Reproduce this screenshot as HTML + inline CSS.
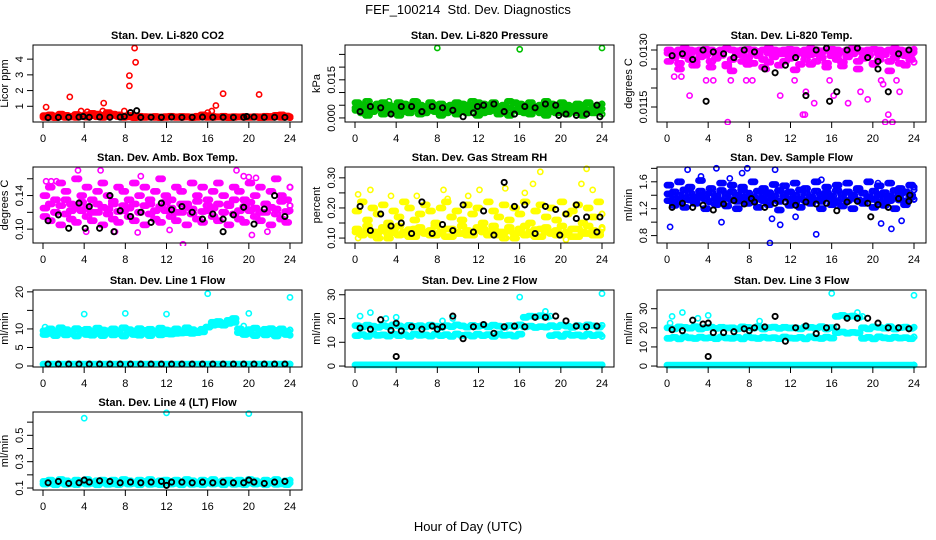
<!DOCTYPE html>
<html><head><meta charset="utf-8">
<style>
html,body{margin:0;padding:0;background:#fff;}
svg{display:block;font-family:"Liberation Sans",Arial,sans-serif;}
</style></head>
<body>
<svg id="chart" width="936" height="540" viewBox="0 0 936 540" xmlns="http://www.w3.org/2000/svg">
<text x="468" y="14" font-size="13" text-anchor="middle">FEF_100214&#160; Std. Dev. Diagnostics</text>
<text x="468" y="531" font-size="13" text-anchor="middle">Hour of Day (UTC)</text>
</svg>
<script>
const xTicks = [0,4,8,12,16,20,24];

const co2BandA = [0.3,0.32,0.28,0.35,0.3,0.33,0.29,0.36,0.31,0.4,0.34,0.3,0.38,0.42,0.35,0.3,0.33,0.28,0.3,0.29,0.31,0.3,0.28,0.3,0.32,0.29,0.3,0.31,0.28,0.3,0.33,0.3,0.29,0.31,0.3,0.28,0.3,0.32,0.29,0.3,0.31,0.28,0.3,0.29,0.33,0.3,0.31,0.28];
const co2BandB = [0.4,0.45,0.38,0.5,0.42,0.36,0.48,0.4,0.45,0.55,0.5,0.42,0.6,0.5,0.45,0.38,0.42,0.35,0.36,0.34,0.33,0.35,0.32,0.34,0.36,0.33,0.35,0.34,0.32,0.36,0.45,0.4,0.35,0.33,0.36,0.32,0.34,0.33,0.35,0.32,0.34,0.33,0.36,0.35,0.42,0.45,0.38,0.33];
const co2Black = [0.28,0.29,0.3,0.31,0.3,0.32,0.3,0.31,0.6,0.29,0.3,0.3,0.31,0.29,0.3,0.31,0.3,0.3,0.29,0.3,0.31,0.3,0.3,0.29];
const co2OutT = [0.3,2.6,3.7,4.3,5.9,5.8,8.4,8.4,8.9,9.0,7.9,16,16.4,16.8,17.5,21,23.3];
const co2OutV = [0.95,1.6,0.7,0.65,1.2,0.7,2.3,2.95,4.7,3.8,0.7,0.6,0.7,1.05,1.8,1.75,0.45];
const co2BlkT = [9.1,3.9,7.9,19.8];
const co2BlkV = [0.72,0.35,0.35,0.35];

const presBandA = [0.006,0.005,0.0065,0.004,0.0055,0.006,0.005,0.0045,0.006,0.0055,0.005,0.0065,0.005,0.0045,0.006,0.005,0.0055,0.0045,0.005,0.006,0.0055,0.005,0.0065,0.006,0.0055,0.005,0.006,0.0045,0.005,0.0065,0.006,0.0055,0.005,0.006,0.0045,0.005,0.0065,0.0055,0.005,0.006,0.005,0.0045,0.0055,0.005,0.006,0.0045,0.005,0.0055];
const presBandB = [0.003,0.002,0.001,0.0025,0.0035,0.0015,0.002,0.003,0.001,0.0025,0.002,0.0035,0.0015,0.002,0.003,0.0025,0.001,0.002,0.003,0.0015,0.0025,0.002,0.0035,0.001,0.002,0.0025,0.003,0.0015,0.002,0.001,0.003,0.0025,0.002,0.0015,0.003,0.002,0.001,0.0025,0.002,0.003,0.0015,0.0025,0.002,0.001,0.003,0.002,0.0025,0.0015];
const presBandC = [0.004,0.0035,0.003,0.0045,0.0038,0.0032,0.004,0.0042,0.0035,0.003,0.0038,0.0045,0.004,0.0033,0.0036,0.0042,0.004,0.0035,0.003,0.0045,0.0038,0.0032,0.004,0.0036,0.0042,0.0035,0.003,0.004,0.0045,0.0038,0.0033,0.004,0.0036,0.0042,0.0035,0.003,0.0038,0.0045,0.004,0.0033,0.0036,0.0042,0.004,0.0035,0.003,0.0038,0.0042,0.0036];
const presBlack = [0.0025,0.0045,0.004,0.0015,0.0045,0.0045,0.0025,0.0045,0.004,0.003,0.0005,0.002,0.005,0.0055,0.0025,0.0015,0.0045,0.004,0.0055,0.005,0.0015,0.001,0.0015,0.005];
const presOutT = [8,16,24,3.3,18.7,6.1];
const presOutV = [0.0275,0.027,0.0275,0.0065,0.0065,0.0063];
const presBlkT = [19.8,23.8,11.9];
const presBlkV = [0.001,0.0005,0.0045];

const tempBandA = [0.01300,0.01295,0.01300,0.01305,0.01300,0.01298,0.01300,0.01302,0.01300,0.01296,0.01300,0.01304,0.01300,0.01298,0.01300,0.01302,0.01300,0.01296,0.01300,0.01305,0.01300,0.01298,0.01300,0.01302,0.01300,0.01296,0.01300,0.01304,0.01300,0.01298,0.01300,0.01302,0.01300,0.01296,0.01300,0.01305,0.01300,0.01298,0.01300,0.01302,0.01300,0.01296,0.01300,0.01304,0.01300,0.01298,0.01300,0.01302];
const tempBandB = [0.01270,0.01280,0.01265,0.01285,0.01275,0.01268,0.01282,0.01290,0.01270,0.01278,0.01286,0.01262,0.01275,0.01288,0.01270,0.01280,0.01265,0.01285,0.01275,0.01268,0.01282,0.01290,0.01270,0.01278,0.01286,0.01262,0.01275,0.01288,0.01270,0.01280,0.01265,0.01285,0.01275,0.01268,0.01282,0.01290,0.01270,0.01278,0.01286,0.01262,0.01275,0.01288,0.01270,0.01280,0.01265,0.01285,0.01275,0.01268];
const tempBandC = [0.01292,0.01288,0.01250,0.01294,0.01290,0.01260,0.01292,0.01286,0.01255,0.01290,0.01294,0.01258,0.01245,0.01292,0.01288,0.01262,0.01290,0.01294,0.01255,0.01292,0.01288,0.01260,0.01290,0.01294,0.01248,0.01292,0.01288,0.01262,0.01290,0.01294,0.01255,0.01292,0.01288,0.01258,0.01290,0.01294,0.01250,0.01292,0.01288,0.01265,0.01290,0.01294,0.01245,0.01292,0.01288,0.01260,0.01290,0.01294];
const tempBlack = [0.01285,0.01290,0.01275,0.01300,0.01295,0.01290,0.01280,0.01300,0.01295,0.01250,0.01240,0.01260,0.01280,0.01180,0.01300,0.01305,0.01190,0.01300,0.01305,0.01280,0.01270,0.01190,0.01290,0.01300];
const tempOutT = [0.7,1.4,2.2,2.4,3.8,4.5,5.9,6.2,7.7,8.3,9.7,11,12.4,13.2,13.4,13.5,14.3,15.8,16.2,17.6,18.8,19.5,21.2,21.5,21.9,22.3,22.6,21,20.8];
const tempOutV = [0.0123,0.0123,0.0118,0.0126,0.0122,0.0122,0.0111,0.0122,0.0122,0.0122,0.0125,0.0118,0.0122,0.0113,0.0113,0.0119,0.0116,0.0122,0.0118,0.0116,0.0119,0.0117,0.0111,0.0113,0.0111,0.0122,0.0119,0.0121,0.0122];
const tempBlkT = [3.8,15.8,20.5];
const tempBlkV = [0.01165,0.01165,0.0125];

const boxBandA = [0.14,0.15,0.135,0.155,0.145,0.13,0.16,0.14,0.15,0.135,0.145,0.155,0.14,0.13,0.15,0.145,0.135,0.155,0.14,0.15,0.13,0.145,0.16,0.14,0.135,0.15,0.145,0.13,0.155,0.14,0.15,0.135,0.145,0.155,0.14,0.13,0.15,0.145,0.135,0.155,0.14,0.15,0.13,0.145,0.16,0.14,0.135,0.15];
const boxBandB = [0.115,0.11,0.12,0.105,0.118,0.112,0.108,0.122,0.115,0.11,0.12,0.105,0.118,0.112,0.108,0.122,0.115,0.11,0.12,0.105,0.118,0.112,0.108,0.122,0.115,0.11,0.12,0.105,0.118,0.112,0.108,0.122,0.115,0.11,0.12,0.105,0.118,0.112,0.108,0.122,0.115,0.11,0.12,0.105,0.118,0.112,0.108,0.122];
const boxBandC = [0.125,0.13,0.12,0.128,0.135,0.122,0.127,0.132,0.125,0.12,0.13,0.126,0.124,0.133,0.121,0.128,0.125,0.13,0.12,0.128,0.135,0.122,0.127,0.132,0.125,0.12,0.13,0.126,0.124,0.133,0.121,0.128,0.125,0.13,0.12,0.128,0.135,0.122,0.127,0.132,0.125,0.12,0.13,0.126,0.124,0.133,0.121,0.128];
const boxBlack = [0.11,0.117,0.101,0.131,0.127,0.101,0.14,0.122,0.115,0.12,0.108,0.131,0.123,0.127,0.12,0.112,0.118,0.112,0.117,0.126,0.106,0.124,0.14,0.115];
const boxOutT = [0.3,0.8,1.3,3.4,3.5,5.6,9.5,13.6,18.8,19.5,20,20.7,22.5,9.2,4.2,7,21.8,20.3,12.3];
const boxOutV = [0.157,0.157,0.157,0.17,0.16,0.17,0.163,0.082,0.17,0.163,0.162,0.161,0.16,0.096,0.097,0.097,0.097,0.093,0.099];
const boxBlkT = [4.1,6.9,17.5];
const boxBlkV = [0.101,0.097,0.097];

const rhBandA = [0.12,0.11,0.13,0.12,0.1,0.125,0.115,0.13,0.11,0.12,0.105,0.13,0.12,0.115,0.125,0.11,0.12,0.13,0.105,0.12,0.115,0.125,0.11,0.13,0.12,0.11,0.13,0.12,0.1,0.125,0.115,0.13,0.11,0.12,0.105,0.13,0.12,0.115,0.125,0.11,0.12,0.13,0.105,0.12,0.115,0.125,0.11,0.13];
const rhBandB = [0.13,0.115,0.14,0.11,0.12,0.135,0.1,0.118,0.14,0.112,0.128,0.105,0.135,0.12,0.11,0.14,0.118,0.105,0.13,0.115,0.14,0.11,0.12,0.135,0.13,0.115,0.14,0.11,0.12,0.135,0.1,0.118,0.14,0.112,0.128,0.105,0.135,0.12,0.11,0.14,0.118,0.105,0.13,0.115,0.14,0.11,0.12,0.135];
const rhBandC = [0.19,0.22,0.16,0.2,0.18,0.21,0.15,0.19,0.17,0.22,0.2,0.16,0.18,0.21,0.19,0.15,0.2,0.22,0.17,0.19,0.16,0.21,0.18,0.2,0.15,0.22,0.19,0.17,0.21,0.16,0.2,0.18,0.22,0.15,0.19,0.21,0.17,0.2,0.16,0.22,0.18,0.19,0.21,0.15,0.2,0.17,0.22,0.18];
const rhBlack = [0.205,0.125,0.18,0.14,0.15,0.115,0.22,0.115,0.145,0.125,0.21,0.12,0.19,0.11,0.285,0.205,0.21,0.115,0.205,0.195,0.18,0.21,0.17,0.12];
const rhOutT = [0.3,1.5,3.5,8.6,11,12.1,14.6,17.3,18,22,22.5,23.1,0.3,20.5,16.5,9,6];
const rhOutV = [0.245,0.26,0.24,0.26,0.24,0.26,0.265,0.28,0.32,0.28,0.33,0.26,0.1,0.095,0.25,0.23,0.24];
const rhBlkT = [23.8,21.5,19.9];
const rhBlkV = [0.17,0.165,0.11];

const flowBandA = [1.42,1.45,1.4,1.48,1.43,1.38,1.46,1.41,1.44,1.39,1.47,1.42,1.45,1.4,1.48,1.43,1.38,1.46,1.41,1.44,1.39,1.47,1.42,1.45,1.4,1.48,1.43,1.38,1.46,1.41,1.44,1.39,1.47,1.42,1.45,1.4,1.48,1.43,1.38,1.46,1.41,1.44,1.39,1.47,1.42,1.45,1.4,1.48];
const flowBandB = [1.32,1.35,1.3,1.36,1.33,1.31,1.37,1.34,1.3,1.35,1.32,1.36,1.33,1.31,1.37,1.34,1.3,1.35,1.32,1.36,1.33,1.31,1.37,1.34,1.3,1.35,1.32,1.36,1.33,1.31,1.37,1.34,1.3,1.35,1.32,1.36,1.33,1.31,1.37,1.34,1.3,1.35,1.32,1.36,1.33,1.31,1.37,1.34];
const flowBandC = [1.55,1.25,1.6,1.22,1.52,1.28,1.62,1.2,1.5,1.26,1.58,1.24,1.55,1.2,1.52,1.28,1.6,1.22,1.5,1.26,1.56,1.18,1.54,1.25,1.58,1.22,1.5,1.28,1.6,1.2,1.52,1.26,1.55,1.24,1.58,1.2,1.5,1.28,1.6,1.22,1.54,1.25,1.58,1.2,1.5,1.26,1.55,1.52];
const flowBlack = [1.22,1.28,1.22,1.25,1.18,1.27,1.32,1.27,1.3,1.22,1.28,1.3,1.25,1.3,1.27,1.28,1.17,1.3,1.31,1.28,1.26,1.22,1.35,1.31];
const flowOutT = [0.3,2,4.8,5.3,7.8,10.5,10.2,11,12.5,14.5,10,20.8,21.8,22.8,3.3,6.1,7.3,15,20.5];
const flowOutV = [0.93,1.78,1.8,1.0,1.8,1.78,1.05,0.96,1.08,0.82,0.69,0.98,0.9,1.02,1.68,1.65,1.73,1.63,1.58];
const flowBlkT = [23.6,19.8,8.2];
const flowBlkV = [1.4,1.08,1.35];

const l1BandA = [9.5,10,9.2,10.3,9.8,9.4,10.1,9.6,9.9,9.3,10.2,9.7,9.5,10,9.2,10.3,9.8,9.4,10.1,9.6,9.9,9.3,10.2,9.7,9.5,10,9.2,10.3,9.8,9.4,9.9,10.5,11.8,12,11.5,12.3,12.8,10,9.5,9.8,10.2,9.4,9.9,10.1,9.6,10,9.3,9.7];
const l1BandB = [8.5,8.8,8.2,9,8.4,8.7,8.1,8.9,8.5,8.3,8.8,8.2,9,8.4,8.7,8.1,8.9,8.5,8.3,8.8,8.2,9,8.4,8.7,8.6,8.8,8.9,9,8.8,9,9.2,10.5,11,11.2,11,11.5,11.8,9,8.5,8.8,8.2,9,8.4,8.7,8.1,8.9,8.5,8.3];
const l1Zero = [0.5,0.5,0.5,0.5,0.5,0.5,0.5,0.5,0.5,0.5,0.5,0.5,0.5,0.5,0.5,0.5,0.5,0.5,0.5,0.5,0.5,0.5,0.5,0.5,0.5,0.5,0.5,0.5,0.5,0.5,0.5,0.5,0.5,0.5,0.5,0.5,0.5,0.5,0.5,0.5,0.5,0.5,0.5,0.5,0.5,0.5,0.5,0.5];
const l1Black = [0.5,0.5,0.5,0.5,0.5,0.5,0.5,0.5,0.5,0.5,0.5,0.5,0.5,0.5,0.5,0.5,0.5,0.5,0.5,0.5,0.5,0.5,0.5,0.5];
const l1OutT = [4,8,12,16,20,24,19.5,0.2];
const l1OutV = [14,14.2,14,19.5,14.2,18.5,10.8,10.5];
const l1BlkT = [];
const l1BlkV = [];

const l2BandA = [17,16.5,17.2,16.8,16.3,17,16.6,17.3,16.9,16.4,17.1,16.7,17,16.5,17.2,16.8,16.3,17,16.6,17.3,16.9,16.4,17.1,16.7,17,16.5,17.2,16.8,16.3,17,16.6,17.3,20.5,21,20.8,21.2,20.6,17,16.5,17.2,16.8,16.3,17,16.6,17.3,16.9,16.4,17.1];
const l2BandB = [12.8,13.2,12.5,13.5,12.9,13.1,12.6,13.4,12.8,13.2,12.5,13.5,12.9,13.1,12.6,13.4,12.8,13.2,12.5,13.5,12.9,13.1,12.6,13.4,12.8,13.2,12.5,13.5,12.9,13.1,12.6,13.4,16.5,16.8,16.2,16.6,16.4,12.8,13.2,12.5,13.5,12.9,13.1,12.6,13.4,12.8,13.2,12.5];
const l2Zero = l1Zero.slice();
const l2Black = [16,15.5,19.5,15,14.8,16.5,15.5,16.8,16.5,21,11.5,16.5,17.5,13.8,16.5,16.8,16.5,20.5,20.5,21,19,16.8,16.5,16.8];
const l2OutT = [0.5,1.5,3,4,16,24,18.5,19,8.5,9.5];
const l2OutV = [21,22.5,20,20.5,29,30.5,23,21,19,20];
const l2BlkT = [4,4,8];
const l2BlkV = [4,18,15.5];

const l3BandA = [20,19.5,20.5,20.2,19.8,20.6,19.4,20.1,20.4,19.7,20.3,19.9,20,19.5,20.5,20.2,19.8,20.6,19.4,20.1,20.4,19.7,20.3,19.9,20,19.5,20.5,20.2,19.8,20.6,19.4,20.1,26,26.5,25.8,26.2,25.5,20,19.5,20.5,20.2,19.8,20.6,19.4,20.1,20.4,19.7,20.3];
const l3BandB = [14.5,15,14.2,15.3,14.8,14.4,15.1,14.6,14.9,14.3,15.2,14.7,14.5,15,14.2,15.3,14.8,14.4,15.1,14.6,14.9,14.3,15.2,14.7,14.5,15,14.2,15.3,14.8,14.4,15.1,14.6,17.5,17.8,17.2,17.6,17.4,14.5,15,14.2,15.3,14.8,14.4,15.1,14.6,14.9,14.3,15.2];
const l3Zero = l1Zero.slice();
const l3Black = [19,18.5,24,22,17.5,17.5,18,19.5,20,20.5,26,13,20,21,17,20,20.5,25,25,25,22.5,20,20,19.5];
const l3OutT = [0.5,1.5,3,4,16,24,18.5,19,9,0.3];
const l3OutV = [26,28,25,26.5,38,37,28,26,23.5,22.5];
const l3BlkT = [4,4,8];
const l3BlkV = [5,22.5,18.5];

const l4BandA = [0.15,0.16,0.145,0.165,0.155,0.14,0.16,0.15,0.165,0.145,0.155,0.16,0.15,0.16,0.145,0.165,0.155,0.14,0.16,0.15,0.165,0.145,0.155,0.16,0.15,0.16,0.145,0.165,0.155,0.14,0.16,0.15,0.165,0.145,0.155,0.16,0.15,0.16,0.145,0.165,0.155,0.14,0.16,0.15,0.165,0.145,0.155,0.16];
const l4BandB = [0.13,0.135,0.125,0.14,0.128,0.132,0.126,0.138,0.13,0.135,0.125,0.14,0.128,0.132,0.126,0.138,0.13,0.135,0.125,0.14,0.128,0.132,0.126,0.138,0.13,0.135,0.125,0.14,0.128,0.132,0.126,0.138,0.13,0.135,0.125,0.14,0.128,0.132,0.126,0.138,0.13,0.135,0.125,0.14,0.128,0.132,0.126,0.138];
const l4Black = [0.14,0.15,0.135,0.14,0.145,0.155,0.15,0.14,0.145,0.14,0.145,0.15,0.145,0.145,0.14,0.145,0.14,0.145,0.14,0.14,0.145,0.135,0.145,0.15];
const l4OutT = [4,12,20];
const l4OutV = [0.63,0.67,0.665];
const l4BlkT = [12,4,20];
const l4BlkV = [0.12,0.16,0.16];

const panels = [
 {name:'co2',title:'Stan. Dev. Li-820 CO2',ylab:'Licor ppm',col:0,row:0,color:'#ff0000',ymin:0,ymax:4.9,ticks:[1,2,3,4],labels:['1','2','3','4'],bands:[co2BandA,co2BandB],black:co2Black,outT:co2OutT,outV:co2OutV,bT:co2BlkT,bV:co2BlkV},
 {name:'pressure',title:'Stan. Dev. Li-820 Pressure',ylab:'kPa',col:1,row:0,color:'#00c000',ymin:-0.0016,ymax:0.0287,ticks:[0,0.005,0.01,0.015,0.02,0.025],labels:['0.000','','','0.015','',''],bands:[presBandA,presBandC,presBandB],black:presBlack,outT:presOutT,outV:presOutV,bT:presBlkT,bV:presBlkV},
 {name:'li820-temp',title:'Stan. Dev. Li-820 Temp.',ylab:'degrees C',col:2,row:0,color:'#ff00ff',ymin:0.011105,ymax:0.013132,ticks:[0.0115,0.012,0.0125,0.013],labels:['0.0115','','','0.0130'],bands:[tempBandA,tempBandB,tempBandC],black:tempBlack,outT:tempOutT,outV:tempOutV,bT:tempBlkT,bV:tempBlkV},
 {name:'amb-box-temp',title:'Stan. Dev. Amb. Box Temp.',ylab:'degrees C',col:0,row:1,color:'#ff00ff',ymin:0.0835,ymax:0.174,ticks:[0.10,0.12,0.14,0.16],labels:['0.10','','0.14',''],bands:[boxBandA,boxBandC,boxBandB],black:boxBlack,outT:boxOutT,outV:boxOutV,bT:boxBlkT,bV:boxBlkV},
 {name:'gas-rh',title:'Stan. Dev. Gas Stream RH',ylab:'percent',col:1,row:1,color:'#ffff00',ymin:0.0836,ymax:0.336,ticks:[0.10,0.15,0.20,0.25,0.30],labels:['0.10','','0.20','','0.30'],bands:[rhBandC,rhBandA,rhBandB],black:rhBlack,outT:rhOutT,outV:rhOutV,bT:rhBlkT,bV:rhBlkV},
 {name:'sample-flow',title:'Stan. Dev. Sample Flow',ylab:'ml/min',col:2,row:1,color:'#0000ff',ymin:0.69,ymax:1.82,ticks:[0.8,1.0,1.2,1.4,1.6,1.8],labels:['0.8','','1.2','','1.6',''],bands:[flowBandC,flowBandA,flowBandB],black:flowBlack,outT:flowOutT,outV:flowOutV,bT:flowBlkT,bV:flowBlkV},
 {name:'line1-flow',title:'Stan. Dev. Line 1 Flow',ylab:'ml/min',col:0,row:2,color:'#00ffff',ymin:-0.27,ymax:20.5,ticks:[0,5,10,15,20],labels:['0','5','10','','20'],bands:[l1BandA,l1BandB,l1Zero],black:l1Black,outT:l1OutT,outV:l1OutV,bT:l1BlkT,bV:l1BlkV},
 {name:'line2-flow',title:'Stan. Dev. Line 2 Flow',ylab:'ml/min',col:1,row:2,color:'#00ffff',ymin:-0.4,ymax:32,ticks:[0,10,20,30],labels:['0','10','20','30'],bands:[l2BandA,l2BandB,l2Zero],black:l2Black,outT:l2OutT,outV:l2OutV,bT:l2BlkT,bV:l2BlkV},
 {name:'line3-flow',title:'Stan. Dev. Line 3 Flow',ylab:'ml/min',col:2,row:2,color:'#00ffff',ymin:-0.5,ymax:39.8,ticks:[0,10,20,30],labels:['0','10','20','30'],bands:[l3BandA,l3BandB,l3Zero],black:l3Black,outT:l3OutT,outV:l3OutV,bT:l3BlkT,bV:l3BlkV},
 {name:'line4-flow',title:'Stan. Dev. Line 4 (LT) Flow',ylab:'ml/min',col:0,row:3,color:'#00ffff',ymin:0.085,ymax:0.677,ticks:[0.1,0.2,0.3,0.4,0.5,0.6],labels:['0.1','','0.3','','0.5',''],bands:[l4BandA,l4BandB],black:l4Black,outT:l4OutT,outV:l4OutV,bT:l4BlkT,bV:l4BlkV}
];

const NS = 'http://www.w3.org/2000/svg';
const svg = document.getElementById('chart');
const colX0 = [43, 355, 667];
const rowTop = [45, 167, 290, 412];
const rowBot = [122, 243, 367, 490];
const PXH = 247/24;
const OFFS = [0, 0.25, 0.5, 0.75];

function mk(tag, attrs, parent){
  const e = document.createElementNS(NS, tag);
  for (const k in attrs) e.setAttribute(k, attrs[k]);
  parent.appendChild(e);
  return e;
}

panels.forEach(p => {
  const g = mk('g', {}, svg);
  
  
  const x0 = colX0[p.col];
  const left = x0 - 10, right = left + 269;
  const top = rowTop[p.row], bot = rowBot[p.row];
  const xs = t => x0 + t * PXH;
  const ys = v => bot - (v - p.ymin) / (p.ymax - p.ymin) * (bot - top);

  const clip = mk('clipPath', {id: 'clip-' + p.name}, g);
  mk('rect', {x: left, y: top - 3, width: 269, height: bot - top + 6}, clip);
  const pts = mk('g', {'clip-path': 'url(#clip-' + p.name + ')', fill: 'none'}, g);
  
  

  function dot(t, v, color, nm, sw){
    const c = mk('circle', {cx: xs(t).toFixed(1), cy: ys(v).toFixed(1), r: 2.6, stroke: color, 'stroke-width': sw}, pts);
    
    
  }
  p.bands.forEach(arr => {
    const n = arr.length;
    OFFS.forEach(o => {
      arr.forEach((v, i) => {
        const t = Math.min(24, (i + o) * 24 / (n - 1));
        dot(t, v, p.color, p.name + '-point', 1.6);
      });
    });
  });
  p.outT.forEach((t, i) => dot(t, p.outV[i], p.color, p.name + '-outlier', 1.6));
  p.black.forEach((v, i) => dot(i + 0.5, v, '#000', p.name + '-hourly-point', 1.9));
  p.bT.forEach((t, i) => dot(t, p.bV[i], '#000', p.name + '-hourly-point', 1.9));

  const box = mk('rect', {x: left, y: top, width: 269, height: bot - top, fill: 'none', stroke: '#000', 'stroke-width': 1}, g);
  
  

  const ttl = mk('text', {x: (left + right) / 2, y: top - 6, 'font-size': 11, 'font-weight': 'bold', 'text-anchor': 'middle'}, g);
  ttl.textContent = p.title;
  
  

  xTicks.forEach(t => {
    mk('line', {x1: xs(t), x2: xs(t), y1: bot, y2: bot + 6, stroke: '#000'}, g);
    const lb = mk('text', {x: xs(t), y: bot + 20, 'font-size': 11, 'text-anchor': 'middle'}, g);
    lb.textContent = t;
    
    
  });
  p.ticks.forEach((v, i) => {
    const y = ys(v);
    mk('line', {x1: left - 6, x2: left, y1: y, y2: y, stroke: '#000'}, g);
    if (p.labels[i]) {
      const lb = mk('text', {x: left - 10, y: y, 'font-size': 11, 'text-anchor': 'middle', transform: 'rotate(-90 ' + (left - 10) + ' ' + y + ')'}, g);
      lb.textContent = p.labels[i];
      
      
    }
  });
  const yl = left - 25, ym = (top + bot) / 2;
  const ylab = mk('text', {x: yl, y: ym, 'font-size': 11, 'text-anchor': 'middle', transform: 'rotate(-90 ' + yl + ' ' + ym + ')'}, g);
  ylab.textContent = p.ylab;
  
  
});
</script>
</body></html>
